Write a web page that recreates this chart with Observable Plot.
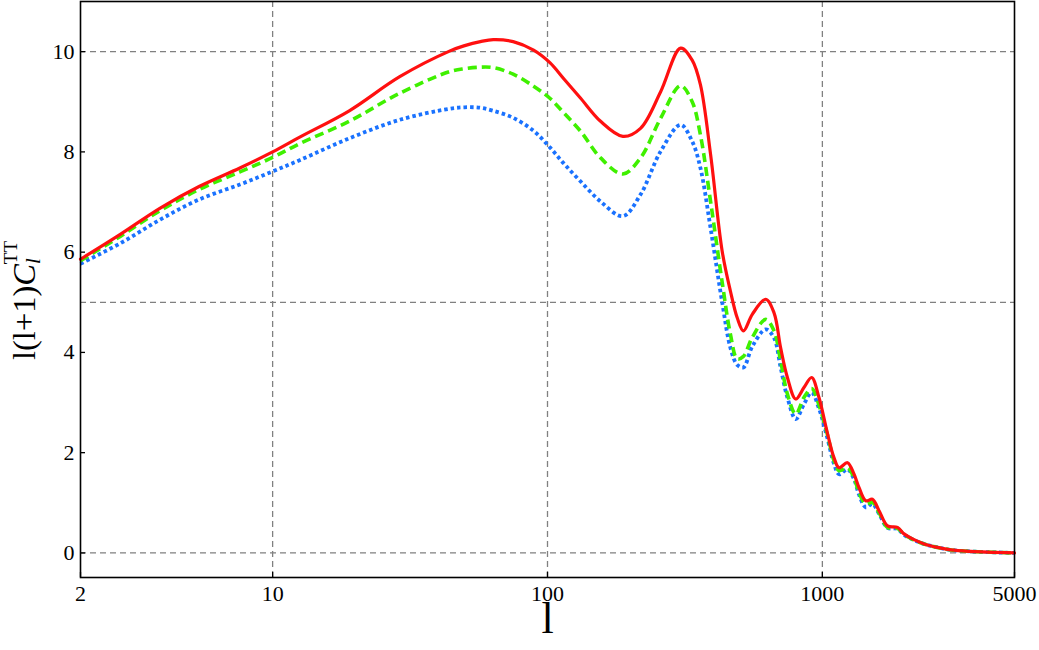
<!DOCTYPE html>
<html><head><meta charset="utf-8">
<script src="https://cdn.jsdelivr.net/npm/d3@7"></script>
<script src="https://cdn.jsdelivr.net/npm/@observablehq/plot@0.6"></script>
<style>body{margin:0;background:#fff} #chart svg{display:block}</style>
</head><body><div id="chart"></div>
<script>
// multipole l
const ell = [2, 2.8, 3.9, 5.4, 7.6, 10, 12.6, 19, 29, 44, 50, 57, 63.5, 75, 89, 102, 115, 132, 156, 188, 218, 258, 305, 336, 360, 392, 432, 463, 490, 516, 556, 622, 667, 705, 746, 800, 857, 914, 972, 1042, 1102, 1150, 1234, 1304, 1360, 1439, 1521, 1608, 1726, 1876, 1982, 2128, 2345, 2624, 2934, 3467, 5000];
// l(l+1) C_l^TT, three models
const redVals = [5.86, 6.36, 6.88, 7.31, 7.68, 8.00, 8.30, 8.82, 9.50, 10.01, 10.12, 10.20, 10.24, 10.20, 10.03, 9.78, 9.45, 9.07, 8.61, 8.31, 8.47, 9.20, 10.07, 9.83, 9.34, 7.95, 6.02, 5.22, 4.69, 4.43, 4.76, 5.06, 4.79, 4.09, 3.50, 3.07, 3.30, 3.50, 3.10, 2.40, 1.90, 1.70, 1.80, 1.57, 1.30, 1.04, 1.07, 0.84, 0.54, 0.51, 0.38, 0.28, 0.18, 0.11, 0.06, 0.03, 0.00];
const greenVals = [5.83, 6.32, 6.83, 7.25, 7.60, 7.89, 8.17, 8.61, 9.17, 9.60, 9.66, 9.69, 9.68, 9.55, 9.31, 9.07, 8.77, 8.41, 7.88, 7.56, 7.88, 8.67, 9.32, 9.00, 8.34, 7.01, 5.40, 4.36, 3.87, 3.92, 4.30, 4.66, 4.43, 3.83, 3.17, 2.77, 3.10, 3.28, 2.95, 2.37, 1.84, 1.64, 1.70, 1.50, 1.20, 0.98, 1.01, 0.80, 0.51, 0.49, 0.37, 0.27, 0.18, 0.11, 0.06, 0.03, 0.00];
const blueVals = [5.77, 6.18, 6.65, 7.05, 7.35, 7.61, 7.84, 8.27, 8.64, 8.86, 8.89, 8.88, 8.82, 8.68, 8.42, 8.09, 7.76, 7.41, 7.01, 6.72, 7.15, 8.01, 8.54, 8.21, 7.68, 6.48, 5.00, 4.09, 3.75, 3.70, 4.12, 4.46, 4.29, 3.70, 3.10, 2.67, 2.97, 3.20, 2.88, 2.30, 1.78, 1.57, 1.67, 1.47, 1.16, 0.91, 0.98, 0.78, 0.50, 0.48, 0.36, 0.27, 0.18, 0.11, 0.06, 0.03, 0.00];

const xTicks = [2, 10, 100, 1000, 5000];
const yTicks = [0, 2, 4, 6, 8, 10];
const xGrid = [10, 100, 1000];
const yGrid = [0, 5, 10];
const xDomain = [2, 5000];
const yDomain = [-0.49, 11];

const toRows = vals => ell.map((l, i) => ({l, v: vals[i]}));
const redRows = toRows(redVals), greenRows = toRows(greenVals), blueRows = toRows(blueVals);

const gridStyle = {stroke: "#808080", strokeOpacity: 1, strokeWidth: 1.3, strokeDasharray: "6,4"};
const serif = "'Liberation Serif', 'Times New Roman', serif";

const chart = Plot.plot({
  width: 1039, height: 650,
  marginLeft: 80, marginRight: 25, marginTop: 1, marginBottom: 73,
  style: {fontFamily: serif, fontSize: "22px", color: "#000", background: "#fff", overflow: "visible"},
  x: {type: "log", domain: xDomain},
  y: {domain: yDomain},
  marks: [
    Plot.gridX(xGrid, gridStyle),
    Plot.gridY(yGrid, gridStyle),
    Plot.line(blueRows, {x: "l", y: "v", stroke: "#1a72ff", strokeWidth: 3.8, strokeDasharray: "3.5,3", strokeLinecap: "butt", curve: "catmull-rom"}),
    Plot.line(greenRows, {x: "l", y: "v", stroke: "#3ff000", strokeWidth: 3.6, strokeDasharray: "9,5", strokeLinecap: "butt", curve: "catmull-rom"}),
    Plot.line(redRows, {x: "l", y: "v", stroke: "#ff1010", strokeWidth: 3.2, curve: "catmull-rom"}),
    Plot.frame({stroke: "#000", strokeWidth: 1.6}),
    // inward tick marks (labels drawn separately so the log formatter does not drop 5000)
    Plot.axisX(xTicks, {tickSize: -5, tickFormat: () => "", label: null, stroke: "#000", strokeWidth: 1.3}),
    Plot.text(xTicks, {x: d => d, frameAnchor: "bottom", lineAnchor: "top", dy: 8, text: d => String(d), fontSize: 22, fill: "#000"}),
    Plot.axisY(yTicks, {tickSize: -5, tickPadding: 11, tickFormat: d => String(d), label: null, fontSize: 22, stroke: "#000", strokeWidth: 1.3}),
    Plot.text(["l"], {frameAnchor: "bottom", dy: 55, text: d => d, fontSize: 44, fill: "#000"})
  ]
});
document.getElementById("chart").appendChild(chart);

// y-axis title with italic C, subscript l and superscript TT
const svg = d3.select(chart);
const t = svg.append("text")
  .attr("transform", "translate(35,360) rotate(-90)")
  .attr("text-anchor", "start")
  .attr("font-family", serif)
  .attr("font-size", 32.5)
  .attr("fill", "#000");
t.append("tspan").text("l(l+1)");
t.append("tspan").attr("font-style", "italic").text("C");
t.append("tspan").attr("font-style", "italic").attr("font-size", 21).attr("dy", 5).text("l");
t.append("tspan").attr("font-size", 19).attr("dx", -6).attr("dy", -23).text("TT");
</script>
</body></html>
